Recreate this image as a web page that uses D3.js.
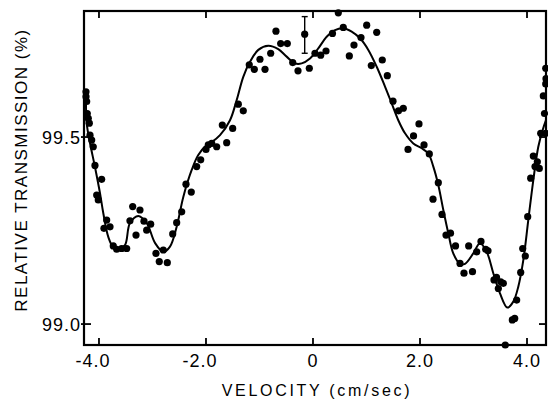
<!DOCTYPE html>
<html>
<head>
<meta charset="utf-8">
<script src="https://d3js.org/d3.v7.min.js"></script>
<style>
  body { margin: 0; background: #fff; }
</style>
</head>
<body>
<div id="chart"></div>
<script>
  // measured points (velocity in cm/sec, relative transmission in %)
  const velocity = [
    -4.243, -4.243, -4.230, -4.219, -4.200, -4.181, -4.168, -4.136, -4.107, -4.075,
    -3.950, -4.043, -4.013, -3.856, -3.794, -3.907, -3.733, -3.669, -3.576, -3.482,
    -3.370, -3.234, -3.421, -3.308, -3.159, -3.034, -3.108, -2.935, -2.798, -2.873,
    -2.723, -2.622, -2.548, -2.454, -2.374, -2.275, -2.174, -2.099, -2.000, -1.957,
    -1.893, -1.800, -1.613, -1.695, -1.501, -1.396, -1.303, -1.191, -1.097, -0.991,
    -0.897, -0.791, -0.692, -0.604, -0.480, -0.379, -0.280, -0.155, -0.069, 0.037,
    0.144, 0.243, 0.364, 0.473, 0.566, 0.679, 0.766, 0.897, 1.004, 1.090,
    1.191, 1.295, 1.389, 1.495, 1.598, 1.688, 1.981, 1.879, 1.776, 2.075,
    2.174, 2.342, 2.243, 2.411, 2.486, 2.570, 2.664, 2.748, 2.910, 2.822,
    2.981, 3.060, 3.140, 3.228, 3.271, 3.383, 3.430, 3.464, 3.508, 3.557,
    3.594, 3.725, 3.770, 3.807, 3.882, 3.920, 3.968, 4.013, 4.069, 4.118,
    4.150, 4.193, 4.230, 4.256, 4.350, 4.327, 4.305, 4.350, 4.355, 4.350
  ];
  const transmission = [
    99.621, 99.608, 99.595, 99.563, 99.550, 99.537, 99.505, 99.492, 99.474, 99.424,
    99.387, 99.345, 99.332, 99.278, 99.260, 99.256, 99.209, 99.200, 99.202, 99.202,
    99.314, 99.305, 99.276, 99.238, 99.275, 99.267, 99.251, 99.189, 99.198, 99.167,
    99.164, 99.241, 99.271, 99.300, 99.374, 99.353, 99.421, 99.439, 99.467, 99.479,
    99.483, 99.474, 99.485, 99.532, 99.523, 99.588, 99.570, 99.693, 99.681, 99.708,
    99.681, 99.724, 99.783, 99.750, 99.750, 99.699, 99.677, 99.775, 99.684, 99.724,
    99.719, 99.730, 99.777, 99.832, 99.793, 99.717, 99.746, 99.766, 99.799, 99.691,
    99.780, 99.706, 99.664, 99.596, 99.570, 99.577, 99.535, 99.503, 99.467, 99.479,
    99.455, 99.378, 99.334, 99.293, 99.238, 99.243, 99.209, 99.162, 99.209, 99.136,
    99.140, 99.193, 99.221, 99.200, 99.196, 99.118, 99.125, 99.095, 99.113, 99.109,
    98.944, 99.011, 99.015, 99.064, 99.138, 99.202, 99.182, 99.287, 99.390, 99.449,
    99.421, 99.434, 99.416, 99.510, 99.510, 99.563, 99.610, 99.642, 99.656, 99.684
  ];

  // fitted curve
  const fitVelocity = [
    -4.243, -4.230, -4.168, -4.075, -3.981, -3.920, -3.826, -3.733, -3.621, -3.514,
    -3.421, -3.265, -3.108, -2.953, -2.798, -2.673, -2.548, -2.424, -2.267, -2.144,
    -1.987, -1.888, -1.738, -1.551, -1.426, -1.303, -1.178, -1.022, -0.836, -0.649,
    -0.492, -0.336, -0.211, -0.056, 0.099, 0.256, 0.411, 0.566, 0.723, 0.879,
    1.034, 1.191, 1.346, 1.471, 1.594, 1.720, 1.875, 2.032, 2.155, 2.249,
    2.342, 2.436, 2.529, 2.622, 2.748, 2.841, 2.996, 3.121, 3.247, 3.370,
    3.495, 3.632, 3.744, 3.837, 3.931, 4.024, 4.118, 4.211, 4.293, 4.355
  ];
  const fitTransmission = [
    99.599, 99.537, 99.484, 99.420, 99.350, 99.297, 99.233, 99.206, 99.202, 99.211,
    99.270, 99.289, 99.270, 99.217, 99.193, 99.207, 99.260, 99.340, 99.412, 99.452,
    99.479, 99.487, 99.505, 99.545, 99.599, 99.661, 99.701, 99.733, 99.744, 99.735,
    99.715, 99.697, 99.697, 99.710, 99.737, 99.768, 99.786, 99.791, 99.782, 99.764,
    99.733, 99.688, 99.635, 99.590, 99.545, 99.510, 99.483, 99.470, 99.456, 99.421,
    99.372, 99.305, 99.243, 99.189, 99.161, 99.161, 99.189, 99.216, 99.193, 99.136,
    99.082, 99.044, 99.060, 99.100, 99.171, 99.278, 99.385, 99.474, 99.519, 99.545
  ];

  // single error bar drawn on the point near zero velocity
  const errVelocity = [-0.155];
  const errCenter = [99.773];
  const errHalf = [0.049];

  const xTicks = [-4, -2, 0, 2, 4];
  const xTickLabels = ['-4.0', '-2.0', '0', '2.0', '4.0'];
  const yTicks = [99.0, 99.5];
  const yTickLabels = ['99.0', '99.5'];

  const width = 548, height = 400;
  const plotL = 84, plotR = 546, plotT = 11, plotB = 345;
  const font = '"Liberation Sans", Arial, sans-serif';

  const svg = d3.select('#chart')
    .append('svg')
    .attr('width', width)
    .attr('height', height);

  const x = d3.scaleLinear().domain([-4.28, 4.355]).range([plotL, plotR]);
  const y = d3.scaleLinear().domain([98.944, 99.837]).range([plotB, plotT]);

  // frame
  svg.append('rect')
    .attr('x', plotL).attr('y', plotT)
    .attr('width', plotR - plotL).attr('height', plotB - plotT)
    .style('fill', 'none').style('stroke', '#000').style('stroke-width', 2.2);

  // bottom and top ticks point inward
  svg.append('g').selectAll('line')
    .data(xTicks).enter().append('line')
    .attr('x1', d => x(d)).attr('x2', d => x(d))
    .attr('y1', plotB).attr('y2', plotB - 7)
    .style('stroke', '#000').style('stroke-width', 1.8);
  svg.append('g').selectAll('line')
    .data(xTicks).enter().append('line')
    .attr('x1', d => x(d)).attr('x2', d => x(d))
    .attr('y1', plotT).attr('y2', plotT + 7)
    .style('stroke', '#000').style('stroke-width', 1.8);

  // left and right ticks
  svg.append('g').selectAll('line')
    .data(yTicks).enter().append('line')
    .attr('x1', plotL - 3).attr('x2', plotL + 7)
    .attr('y1', d => y(d)).attr('y2', d => y(d))
    .style('stroke', '#000').style('stroke-width', 1.8);
  svg.append('g').selectAll('line')
    .data(yTicks).enter().append('line')
    .attr('x1', plotR).attr('x2', plotR - 7)
    .attr('y1', d => y(d)).attr('y2', d => y(d))
    .style('stroke', '#000').style('stroke-width', 1.8);

  // tick labels
  svg.append('g').selectAll('text')
    .data(xTicks).enter().append('text')
    .attr('x', d => x(d) + (d < 0 ? -6 : 0))
    .attr('y', 367)
    .text((d, i) => xTickLabels[i])
    .style('text-anchor', 'middle')
    .style('font-family', font)
    .style('font-size', '18px')
    .style('letter-spacing', '1px');

  svg.append('g').selectAll('text')
    .data(yTicks).enter().append('text')
    .attr('x', 81)
    .attr('y', d => y(d) + 6.5)
    .text((d, i) => yTickLabels[i])
    .style('text-anchor', 'end')
    .style('font-family', font)
    .style('font-size', '18px')
    .style('letter-spacing', '1px');

  // axis titles
  svg.append('text')
    .attr('x', 317).attr('y', 396)
    .text('VELOCITY (cm/sec)')
    .style('text-anchor', 'middle')
    .style('font-family', font)
    .style('font-size', '16px')
    .style('letter-spacing', '2.7px');

  svg.append('text')
    .attr('transform', 'translate(27,170) rotate(-90)')
    .text('RELATIVE TRANSMISSION (%)')
    .style('text-anchor', 'middle')
    .style('font-family', font)
    .style('font-size', '17px')
    .style('letter-spacing', '1.5px');

  // fitted curve
  const line = d3.line()
    .x(d => x(d[0]))
    .y(d => y(d[1]))
    .curve(d3.curveCatmullRom.alpha(0.5));

  svg.append('path')
    .datum(d3.zip(fitVelocity, fitTransmission))
    .attr('d', line)
    .style('fill', 'none')
    .style('stroke', '#000')
    .style('stroke-width', 2);

  // error bar
  const eb = svg.append('g');
  eb.selectAll('line.v')
    .data(errVelocity).enter().append('line')
    .attr('x1', d => x(d)).attr('x2', d => x(d))
    .attr('y1', (d, i) => y(errCenter[i] + errHalf[i]))
    .attr('y2', (d, i) => y(errCenter[i] - errHalf[i]))
    .style('stroke', '#000').style('stroke-width', 1.4);
  [1, -1].forEach(s => {
    eb.selectAll(null)
      .data(errVelocity).enter().append('line')
      .attr('x1', d => x(d) - 3).attr('x2', d => x(d) + 3)
      .attr('y1', (d, i) => y(errCenter[i] + s * errHalf[i]))
      .attr('y2', (d, i) => y(errCenter[i] + s * errHalf[i]))
      .style('stroke', '#000').style('stroke-width', 1.4);
  });

  // data points
  svg.append('g').selectAll('circle')
    .data(d3.zip(velocity, transmission))
    .enter().append('circle')
    .attr('cx', d => x(d[0]))
    .attr('cy', d => y(d[1]))
    .attr('r', 3.6)
    .style('fill', '#000');
</script>
</body>
</html>
